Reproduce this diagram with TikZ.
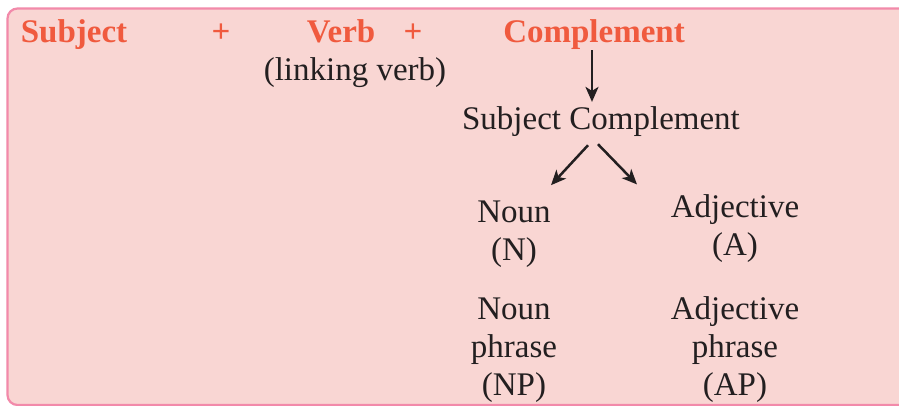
\documentclass[tikz,border=0pt]{standalone}
\usepackage{fontspec}
\setmainfont{Liberation Serif}
\usetikzlibrary{arrows.meta}
\definecolor{bgpink}{RGB}{249,214,211}
\definecolor{edgepink}{RGB}{242,138,170}
\definecolor{hdr}{RGB}{240,90,62}
\definecolor{ink}{RGB}{35,31,32}
\begin{document}
\begin{tikzpicture}[x=1pt,y=-1pt,
  lbl/.style={font=\fontsize{33}{38}\selectfont, text=ink, inner sep=0pt, anchor=base, align=center},
  hd/.style={font=\fontsize{33}{38}\selectfont\bfseries, text=hdr, inner sep=0pt, anchor=base},
  arr/.style={draw=ink, line width=2.5pt, -{Stealth[length=15pt,width=13pt,inset=4pt]}}]
\useasboundingbox (0,0) rectangle (899,406);
\clip (0,0) rectangle (899,406);
\fill[white] (0,0) rectangle (899,406);
\draw[edgepink, fill=bgpink, line width=2.2pt, rounded corners=10pt] (7.5,8.5) rectangle (930,405);
\node[hd] (subj) at (74,43) {Subject};
\node[hd] (plus1) at (221,43) {+};
\node[hd] (verb) at (341,43) {Verb};
\node[hd] (plus2) at (413,43) {+};
\node[hd] (comp) at (594,43) {Complement};
\node[lbl] (link) at (355,81) {(linking verb)};
\node[lbl] (sc) at (601,130) {Subject Complement};
\node[lbl] (noun) at (514,260) {Noun\\(N)};
\node[lbl] (adj) at (735,255) {Adjective\\(A)};
\node[lbl] (np) at (514,395) {Noun\\phrase\\(NP)};
\node[lbl] (ap) at (735,395) {Adjective\\phrase\\(AP)};
\draw[arr] ([xshift=-2pt]comp.south) -- ([xshift=-2pt,yshift=5pt]comp.south |- sc.north);
\draw[arr] ([xshift=-13pt,yshift=-8pt]sc.south) -- ([xshift=37pt,yshift=15pt]noun.north);
\draw[arr] ([xshift=-3pt,yshift=-7pt]sc.south) -- ([xshift=-98pt,yshift=9.5pt]adj.north);
\end{tikzpicture}
\end{document}
